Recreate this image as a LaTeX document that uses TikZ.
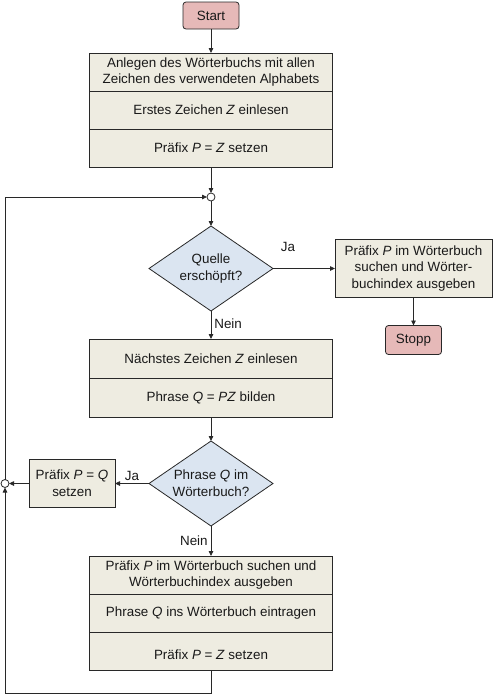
\documentclass[tikz,border=0pt]{standalone}
\usepackage{fontspec}
\setmainfont{Liberation Sans}
\usepackage{tikz}
\usetikzlibrary{arrows.meta,positioning,shapes.geometric}
\definecolor{termred}{HTML}{E6B9B8}
\definecolor{boxtan}{HTML}{EEECE1}
\definecolor{decblue}{HTML}{DBE5F1}
\definecolor{edgegray}{RGB}{40,40,40}
\tikzset{
    txt/.style={font=\fontsize{13.4}{16.7}\selectfont, text=black!90, outer sep=0pt},
    term/.style={txt, rectangle, draw=edgegray, fill=termred, line width=0.8pt,
                 rounded corners=3pt, minimum width=56pt, minimum height=27pt},
    sect/.style={txt, rectangle, draw=edgegray, fill=boxtan, line width=0.8pt,
                 minimum width=243pt, minimum height=38pt, align=center, inner sep=2pt},
    dec/.style={txt, diamond, draw=edgegray, fill=decblue, line width=0.8pt,
                aspect=1.46, minimum width=124pt, minimum height=85pt,
                inner sep=0pt, align=center},
    junc/.style={circle, draw=edgegray, fill=white, line width=0.8pt,
                 minimum size=8pt, inner sep=0pt, outer sep=0pt},
    arr/.style={-{Triangle[length=5pt,width=4.5pt]}, line width=0.8pt, draw=edgegray},
    lbl/.style={txt},
}
\begin{document}
\begin{tikzpicture}[x=1pt,y=-1pt]
    \useasboundingbox (0,0) rectangle (493,694);

    \node[term] (start) at (211,15.5) {Start};
    \node[sect, below=24pt of start] (init1)
        {Anlegen des Wörterbuchs mit allen\\Zeichen des verwendeten Alphabets};
    \node[sect, below=0pt of init1] (init2) {Erstes Zeichen \textit{Z} einlesen};
    \node[sect, below=0pt of init2] (init3) {Präfix \textit{P} = \textit{Z} setzen};
    \node[junc, below=26pt of init3] (j1) {};

    \node[dec, below=25pt of j1] (q1) {Quelle\\erschöpft?};
    \node[sect, minimum width=157pt, minimum height=58pt, right=62pt of q1] (out1)
        {Präfix \textit{P} im Wörterbuch\\suchen und Wörter-\\buchindex ausgeben};
    \node[term, minimum height=29pt, below=28pt of out1] (stopp) {Stopp};

    \node[sect, minimum height=39pt, below=28pt of q1] (next1) {Nächstes Zeichen \textit{Z} einlesen};
    \node[sect, minimum height=39pt, below=0pt of next1] (next2) {Phrase \textit{Q} = \textit{PZ} bilden};

    \node[dec, below=24pt of next2] (q2) {Phrase \textit{Q} im\\Wörterbuch?};
    \node[sect, minimum width=86pt, minimum height=48pt, left=34pt of q2] (setq)
        {Präfix \textit{P} = \textit{Q}\\setzen};
    \node[junc, left=20pt of setq] (j2) {};

    \node[sect, below=30pt of q2] (upd1)
        {Präfix \textit{P} im Wörterbuch suchen und\\Wörterbuchindex ausgeben};
    \node[sect, below=0pt of upd1] (upd2) {Phrase \textit{Q} ins Wörterbuch eintragen};
    \node[sect, below=0pt of upd2] (upd3) {{}\\Präfix \textit{P} = \textit{Z} setzen};

    \draw[arr] (start) -- (init1);
    \draw[arr] (init3) -- (j1);
    \draw[arr] (j1) -- (q1);
    \draw[arr] (q1.east) -- node[lbl, pos=0.24, yshift=22pt]{Ja} (out1.west);
    \draw[arr] (out1) -- (stopp);
    \draw[arr] (q1.south) -- node[lbl, right, pos=0.45]{Nein} (next1.north);
    \draw[arr] (next2) -- (q2);
    \draw[arr] (q2.west) -- node[lbl, above, pos=0.5]{Ja} (setq.east);
    \draw[arr] (setq.west) -- (j2.east);
    \draw[arr] (q2.south) -- node[lbl, left, pos=0.5]{Nein} (upd1.north);
    \draw[arr] (upd3.south) -- ++(0,23) -| (j2.south);
    \draw[arr] (j2.north) |- (j1.west);
\end{tikzpicture}
\end{document}
